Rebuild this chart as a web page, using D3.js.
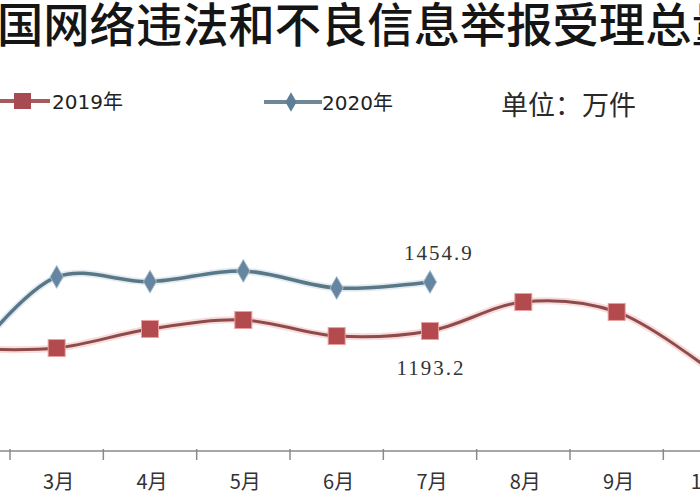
<!DOCTYPE html>
<html><head><meta charset="utf-8">
<script src="https://cdn.jsdelivr.net/npm/d3@7"></script>
<style>html,body{margin:0;padding:0;background:#fff;overflow:hidden}</style>
</head><body>
<svg id="c" width="700" height="500"></svg>
<script>
const titleText = "国网络违法和不良信息举报受理总量";
const months = ["2月","3月","4月","5月","6月","7月","8月","9月","10月"];
const series2019 = [1100, 1102, 1204, 1252, 1166, 1193.2, 1348, 1295, 985];
const series2020 = [1000, 1482, 1457, 1514, 1423, 1454.9];
const seriesNames = ["2019年","2020年"];
const unitText = "单位：万件";
const labels = [{series:"2020年", month:"7月", value:1454.9, text:"1454.9"},
                {series:"2019年", month:"7月", value:1193.2, text:"1193.2"}];

const svg = d3.select("#c");
const step = 93.33;
const x = d3.scaleBand().domain(months).range([10 - step, 10 - step + step*months.length]).padding(0);
const y = d3.scaleLinear().domain([552, 1454.9]).range([451, 282]);
const cx = m => x(m) + x.bandwidth()/2;

// title
svg.append("text").attr("x", -3).attr("y", 42)
  .attr("font-family", "'Noto Sans CJK SC'").attr("font-size", 46.3).attr("font-weight", 500)
  .attr("fill", "#151515").text(titleText);

// axis
const axisY = y(552);
svg.append("line").attr("x1", 0).attr("x2", 700).attr("y1", axisY).attr("y2", axisY)
  .attr("stroke", "#8a8a8a").attr("stroke-width", 1.5);
const bounds = months.map(m => x(m)).concat([x(months[months.length-1]) + x.bandwidth()]);
svg.selectAll(".tick").data(bounds).join("line")
  .attr("x1", d => d).attr("x2", d => d).attr("y1", axisY - 2).attr("y2", axisY + 9)
  .attr("stroke", "#8a8a8a").attr("stroke-width", 1.5);
svg.selectAll(".mlab").data(months.filter(m => cx(m) > 0)).join("text")
  .attr("x", d => cx(d) + 2).attr("y", 489).attr("text-anchor", "middle")
  .attr("font-family", "'Noto Sans CJK SC'").attr("font-size", 20).attr("fill", "#333")
  .text(d => d);

const line = d3.line().x(d => cx(d.m)).y(d => y(d.v)).curve(d3.curveCatmullRom.alpha(0.5));
const d19 = series2019.map((v, i) => ({m: months[i], v}));
const d20 = series2020.map((v, i) => ({m: months[i], v}));

// 2019
svg.append("path").datum(d19).attr("d", line).attr("fill", "none")
  .attr("stroke", "#f2b8b8").attr("stroke-width", 7).attr("opacity", 0.5);
svg.append("path").datum(d19).attr("d", line).attr("fill", "none")
  .attr("stroke", "#8e4b4b").attr("stroke-width", 3);
svg.selectAll(".sq").data(d19).join("rect")
  .attr("x", d => cx(d.m) - 8.5).attr("y", d => y(d.v) - 8.5).attr("width", 17).attr("height", 17)
  .attr("fill", "#b24a4e").attr("stroke", "#e9a0a0").attr("stroke-width", 1);

// 2020
svg.append("path").datum(d20).attr("d", line).attr("fill", "none")
  .attr("stroke", "#c9d8e2").attr("stroke-width", 7).attr("opacity", 0.5);
svg.append("path").datum(d20).attr("d", line).attr("fill", "none")
  .attr("stroke", "#587787").attr("stroke-width", 3.5);
const dia = d3.symbol().type(d3.symbolDiamond).size(150);
svg.selectAll(".dm").data(d20).join("path")
  .attr("d", dia).attr("transform", d => `translate(${cx(d.m)},${y(d.v)})`)
  .attr("fill", "#6585a0").attr("stroke", "#a9bfd0").attr("stroke-width", 1);

// data labels
svg.selectAll(".dl").data(labels).join("text")
  .attr("x", d => cx(d.month) + (d.series === "2020年" ? 9 : 1))
  .attr("y", d => d.series === "2020年" ? y(d.value) - 22 : y(d.value) + 44)
  .attr("text-anchor", "middle")
  .attr("font-family", "'Liberation Serif'").attr("font-size", 21).attr("letter-spacing", 2)
  .attr("fill", "#333").text(d => d.text);

// legend
const lg = svg.append("g");
lg.append("line").attr("x1", 0).attr("x2", 50).attr("y1", 101).attr("y2", 101)
  .attr("stroke", "#a45a5e").attr("stroke-width", 4);
lg.append("rect").attr("x", 14).attr("y", 93).attr("width", 17).attr("height", 16).attr("fill", "#a84a52");
lg.append("text").attr("x", 52).attr("y", 109).attr("font-family", "'DejaVu Sans', 'Noto Sans CJK SC'")
  .attr("font-size", 20).attr("fill", "#222").text(seriesNames[0]);
lg.append("line").attr("x1", 264).attr("x2", 322).attr("y1", 102).attr("y2", 102)
  .attr("stroke", "#6f8796").attr("stroke-width", 4);
lg.append("path").attr("d", d3.symbol().type(d3.symbolDiamond).size(110))
  .attr("transform", "translate(291,102)").attr("fill", "#5f7f98");
lg.append("text").attr("x", 322).attr("y", 110).attr("font-family", "'DejaVu Sans', 'Noto Sans CJK SC'")
  .attr("font-size", 20).attr("fill", "#222").text(seriesNames[1]);
lg.append("text").attr("x", 501).attr("y", 115).attr("font-family", "'Noto Sans CJK SC'")
  .attr("font-size", 27).attr("fill", "#2a2a2a").text(unitText);
</script>
</body></html>
